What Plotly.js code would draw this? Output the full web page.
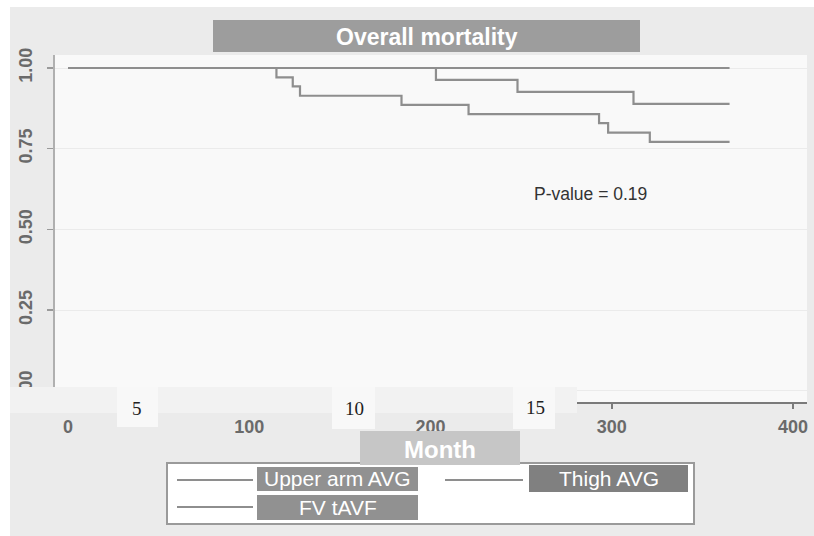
<!DOCTYPE html>
<html>
<head>
<meta charset="utf-8">
<script src="https://cdn.plot.ly/plotly-3.0.1.min.js"></script>
<style>html,body{margin:0;padding:0;background:#fff;}#chart{width:814px;height:536px;}</style>
</head>
<body>
<div id="chart"></div>
<script>
// ---- data ----
const seriesNames = ['Upper arm AVG', 'Thigh AVG', 'FV tAVF'];
const upperTime = [0, 365];
const upperSurv = [1, 1];
const thighTime = [0, 203, 248, 312, 365];
const thighSurv = [1, 0.963, 0.926, 0.889, 0.889];
const fvTime = [0, 115, 124, 128, 184, 221, 293, 298, 321, 365];
const fvSurv = [1, 0.971, 0.943, 0.914, 0.886, 0.857, 0.829, 0.800, 0.771, 0.771];
const xTicks = [0, 100, 200, 300, 400];
const yTicks = [0, 0.25, 0.5, 0.75, 1];
const yTickText = ['0.00', '0.25', '0.50', '0.75', '1.00'];
const overlayLabels = ['5', '10', '15'];
const chartTitle = 'Overall mortality';
const xTitle = 'Month';
const pText = 'P-value = 0.19';

// ---- layout helpers (pixel -> paper) ----
const L = 55, R = 807, T = 55, B = 402;
const fx = px => (px - L) / (R - L);
const fy = py => (B - py) / (B - T);
const rect = (x0, y0, x1, y1, fill, layer, line) => ({
  type: 'rect', xref: 'paper', yref: 'paper',
  x0: fx(x0), x1: fx(x1), y0: fy(y1), y1: fy(y0),
  fillcolor: fill, line: line || {width: 0}, layer: layer || 'above'
});
const seg = (x0, y0, x1, y1, color, w) => ({
  type: 'line', xref: 'paper', yref: 'paper',
  x0: fx(x0), x1: fx(x1), y0: fy(y0), y1: fy(y1),
  line: {color: color, width: w}, layer: 'above'
});
const ann = (text, px, py, font, extra) => Object.assign({
  text: text, xref: 'paper', yref: 'paper', x: fx(px), y: fy(py),
  xanchor: 'center', yanchor: 'middle', showarrow: false, font: font
}, extra || {});

const lineColor = '#8e8e8e';
const times = [upperTime, thighTime, fvTime];
const survs = [upperSurv, thighSurv, fvSurv];
const traces = seriesNames.map((n, i) => ({
  type: 'scatter', mode: 'lines', name: n,
  x: times[i], y: survs[i],
  line: {shape: 'hv', color: lineColor, width: 2.2},
  hoverinfo: 'skip'
}));

const sans = '"Liberation Sans", Arial, Helvetica, sans-serif';
const serif = '"Liberation Serif", "Times New Roman", serif';

const shapes = [
  rect(0, 0, 814, 7, '#ffffff', 'below'),
  rect(0, 0, 10, 536, '#ffffff', 'below'),
  rect(213, 20, 640, 52, '#9d9d9d'),
  rect(10, 387, 577, 413, '#f2f2f2'),
  rect(117, 387, 158, 427, '#f8f8f8'),
  rect(332, 387, 375, 429, '#f8f8f8'),
  rect(513, 387, 555, 429, '#f8f8f8'),
  rect(167, 463, 694, 524, '#ffffff', 'above', {color: '#9a9a9a', width: 2}),
  seg(177, 480, 253, 480, lineColor, 2.2),
  seg(445, 480, 523, 480, lineColor, 2.2),
  seg(177, 507, 253, 507, lineColor, 2.2),
  rect(257, 467, 418, 491, '#919191'),
  rect(529, 465, 688, 492, '#808080'),
  rect(257, 495, 418, 520, '#919191'),
  rect(360, 431, 520, 465, '#c6c6c6')
];

const legFont = {family: sans, size: 21, color: '#ffffff'};
const numFont = {family: serif, size: 19, color: '#222222'};
const annotations = [
  ann(chartTitle, 427, 37, {family: sans, size: 23, color: '#ffffff', weight: 'bold'}),
  ann(xTitle, 440, 449, {family: sans, size: 24, color: '#ffffff', weight: 'bold'}),
  ann(pText, 590, 194, {family: sans, size: 17.5, color: '#333333'}),
  ann(overlayLabels[0], 137, 409, numFont),
  ann(overlayLabels[1], 354, 408, numFont),
  ann(overlayLabels[2], 535, 407, numFont),
  ann(seriesNames[0], 337.5, 478, legFont),
  ann(seriesNames[1], 608.5, 478, legFont),
  ann(seriesNames[2], 337.5, 507, legFont)
];

const layout = {
  width: 814, height: 536, autosize: false,
  margin: {l: L, r: 814 - R, t: T, b: 536 - B, pad: 0},
  paper_bgcolor: '#ebebeb',
  plot_bgcolor: '#f9f9f9',
  showlegend: false,
  xaxis: {
    range: [-(68 - L) / 1.8125, (R - 68) / 1.8125],
    tickvals: xTicks, ticktext: xTicks.map(String),
    showgrid: false, zeroline: false,
    showline: true, linecolor: '#7a7a7a', linewidth: 2,
    ticks: 'outside', ticklen: 5, tickwidth: 1.5, tickcolor: '#7a7a7a',
    tickfont: {family: sans, size: 18, color: '#6a6a6a', weight: 'bold'},
    ticklabelstandoff: 2
  },
  yaxis: {
    range: [1 - (B - 68) / 322.8, 1 + (68 - T) / 322.8],
    tickvals: yTicks, ticktext: yTickText,
    showgrid: true, gridcolor: '#ebebeb', gridwidth: 1,
    zeroline: false,
    showline: true, linecolor: '#b0b0b0', linewidth: 2,
    ticks: 'outside', ticklen: 6, tickwidth: 1.5, tickcolor: '#9a9a9a',
    tickangle: -90,
    tickfont: {family: sans, size: 18, color: '#6a6a6a', weight: 'bold'},
    ticklabelstandoff: 8
  },
  shapes: shapes,
  annotations: annotations
};

Plotly.newPlot('chart', traces, layout, {staticPlot: true, displayModeBar: false});
</script>
</body>
</html>
